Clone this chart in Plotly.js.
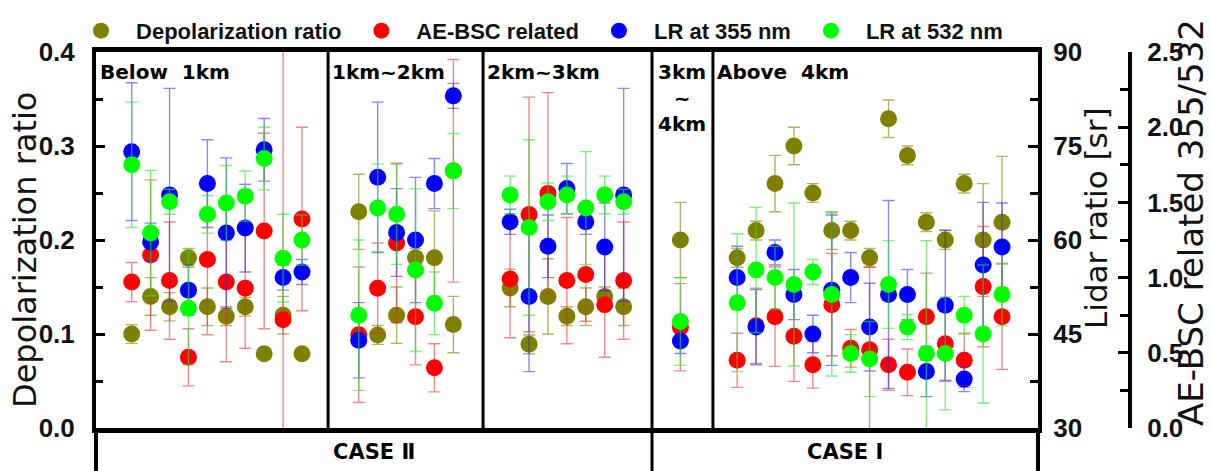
<!DOCTYPE html>
<html><head><meta charset="utf-8">
<script src="https://cdn.plot.ly/plotly-3.0.1.min.js"></script>
<style>html,body{margin:0;padding:0;background:#fff}#chart{width:1210px;height:471px}</style>
</head><body><div id="chart"></div>
<script>
// x slots (categorical positions of the samples)
const xPos = [1,2,3,4,5,6,7,8,9,10, 13,14,15,16,17,18, 21,22,23,24,25,26,27, 30, 33,34,35,36,37,38,39,40,41,42,43,44,45,46,47];
// Depolarization ratio
const depol = [0.100,0.140,0.129,0.181,0.129,0.119,0.129,0.079,0.120,0.079,
  0.230,0.099,0.120,0.181,0.181,0.110,
  0.149,0.089,0.140,0.119,0.129,0.140,0.129,
  0.200,
  0.181,0.210,0.260,0.300,0.250,0.210,0.210,0.181,0.329,0.290,0.219,0.200,0.260,0.200,0.219];
const depolErr = [0.01,0.02,0.015,0.01,0.02,0.01,0.01,0.006,0.02,0.006,
  0.04,0.01,0.03,0.01,0.05,0.03,
  0.02,0.01,0.04,0.01,0.02,0.01,0.02,
  0.04,
  0.01,0.01,0.03,0.02,0.01,0.02,0.01,0.01,0.02,0.01,0.01,0.01,0.01,0.06,0.07];
// AE-BSC related 355/532
const aeBsc = [0.97,1.15,0.98,0.47,1.12,0.97,0.93,1.31,0.72,1.39,
  0.62,0.93,1.23,0.74,0.40,1.71,
  0.99,1.42,1.56,0.98,1.02,0.82,0.98,
  0.67,
  0.45,0.68,0.74,0.61,0.42,0.82,0.53,0.52,0.42,0.37,0.74,0.56,0.45,0.94,0.74];
const aeBscErr = [0.13,0.5,0.39,0.19,0.5,0.53,0.4,0.65,1.8,0.61,
  0.45,0.3,0.53,0.32,0.16,0.74,
  0.39,0.78,0.67,0.42,0.31,0.35,0.39,
  0.29,
  0.18,0.25,0.33,0.3,0.155,0.34,0.125,0.55,0.17,0.155,0.29,0.25,0.18,0.4,0.35];
// Lidar ratio at 355 nm [sr]
const lr355 = [74.1,59.7,67.2,52.0,69.0,61.1,61.9,74.4,54.0,54.9,
  44.0,70.0,61.2,60.0,69.0,83.0,
  62.9,51.0,59.0,68.2,62.9,58.9,67.2,
  43.9,
  54.0,46.1,58.0,51.3,45.0,52.0,54.0,46.1,51.3,51.3,39.0,49.6,37.8,56.0,58.9];
const lr355Err = [11,3,17,4,7,12,7,5,2,2,
  6,12,7,10,4,2,
  2,12,5,4,2,7,17,
  2,
  5,6,2,4,3,12,4,7,15,4,4,12,2,10,7];
// Lidar ratio at 532 nm [sr]
const lr532 = [72.0,61.1,66.1,49.1,64.1,65.9,67.0,73.0,57.1,60.0,
  48.0,65.1,64.1,55.2,49.9,71.0,
  67.2,62.0,66.1,67.2,65.1,67.2,66.1,
  47.0,
  50.0,55.2,54.0,52.9,54.9,51.3,41.9,41.0,52.9,46.1,41.9,41.9,48.0,45.0,51.3];
const lr532Err = [10,10,2,9,3,6,4,5,7,4,
  12,7,8,13,5,6,
  3,14,3,3,9,3,2,
  7,
  11,10,5,13,2,13,3,6,7,2,18,9,3,11,5];

const groupEdges = [-0.887, 11.38, 19.57, 28.5, 31.72, 48.9];
const groupLabels = ['Below\u00a0 1km', '1km~2km', '2km~3km', '3km<br>~<br>4km', 'Above\u00a0 4km'];
const caseLabels = ['CASE \u2161', 'CASE \u2160'];
const caseEdges = [-0.887, 28.5, 48.9];

const seriesNames = ['Depolarization ratio', 'AE-BSC related', 'LR at 355 nm', 'LR at 532 nm'];
const seriesColors = ['#808000', '#ff0000', '#0000ff', '#00ff00'];
const errColors = ['rgba(128,128,0,0.6)', 'rgba(230,40,40,0.55)', 'rgba(40,40,230,0.55)', 'rgba(40,230,40,0.6)'];

const AR = 'Liberation Sans, Arial, sans-serif';
const DV = 'DejaVu Sans, Verdana, sans-serif';

function mk(i, y, err, yaxis) {
  return {
    type: 'scatter', mode: 'markers', name: seriesNames[i], x: xPos, y: y, yaxis: yaxis,
    marker: {color: seriesColors[i], size: 17, line: {width: 0}},
    error_y: {type: 'data', array: err, visible: true, color: errColors[i], thickness: 1.4, width: 6},
    cliponaxis: true
  };
}
const data = [
  mk(0, depol, depolErr, 'y'),
  mk(1, aeBsc, aeBscErr, 'y2'),
  mk(2, lr355, lr355Err, 'y3'),
  mk(3, lr532, lr532Err, 'y3')
];

const tickFont = {family: AR, size: 26, weight: 'bold', color: '#111'};
const xDomEnd = 942 / 1034;

const shapes = [];
for (let i = 1; i < groupEdges.length - 1; i++) {
  const e = groupEdges[i];
  const extend = caseEdges.indexOf(e) >= 0;
  shapes.push({type: 'line', xref: 'x', yref: 'paper', x0: e, x1: e, y0: extend ? -0.13 : 0, y1: 1,
    line: {color: 'black', width: 3}});
}
shapes.push({type: 'line', xref: 'paper', yref: 'paper', x0: 0, x1: 0, y0: -0.13, y1: 0, line: {color: 'black', width: 4}});
shapes.push({type: 'line', xref: 'paper', yref: 'paper', x0: xDomEnd, x1: xDomEnd, y0: -0.13, y1: 0, line: {color: 'black', width: 4}});

const annotations = [];
for (let i = 0; i < groupLabels.length; i++) {
  const centered = groupLabels[i].indexOf('<br>') >= 0;
  annotations.push({
    xref: 'x', yref: 'paper',
    x: centered ? (groupEdges[i] + groupEdges[i + 1]) / 2 : groupEdges[i],
    xanchor: centered ? 'center' : 'left', xshift: centered ? 0 : 2,
    y: 0.985, yanchor: 'top', showarrow: false, align: 'center',
    text: groupLabels[i], font: {family: DV, size: 20, weight: 'bold', color: '#000'}
  });
}
for (let i = 0; i < caseLabels.length; i++) {
  annotations.push({
    xref: 'x', yref: 'paper', x: (caseEdges[i] + caseEdges[i + 1]) / 2, y: -0.064,
    xanchor: 'center', yanchor: 'middle', showarrow: false,
    text: caseLabels[i], font: {family: DV, size: 21, weight: 'bold', color: '#000'}
  });
}
// axis titles
annotations.push({xref: 'paper', yref: 'paper', x: (25 - 96) / 1034, y: (428 - 250) / 376,
  xanchor: 'center', yanchor: 'middle', textangle: -90, showarrow: false,
  text: 'Depolarization ratio', font: {family: DV, size: 32, color: '#111'}});
annotations.push({xref: 'paper', yref: 'paper', x: (1096 - 96) / 1034, y: (428 - 218) / 376,
  xanchor: 'center', yanchor: 'middle', textangle: -90, showarrow: false,
  text: 'Lidar ratio [sr]', font: {family: DV, size: 31, color: '#111'}});
annotations.push({xref: 'paper', yref: 'paper', x: (1191 - 96) / 1034, y: (428 - 223) / 376,
  xanchor: 'center', yanchor: 'middle', textangle: -90, showarrow: false,
  text: 'AE-BSC related 355/532', font: {family: DV, size: 34, color: '#111'}});

const layout = {
  width: 1210, height: 471,
  margin: {l: 96, r: 80, t: 52, b: 43, autoexpand: false},
  paper_bgcolor: 'white', plot_bgcolor: 'white',
  showlegend: true,
  legend: {orientation: 'h', x: -0.029, xanchor: 'left', y: 1.112, yanchor: 'top',
    font: {family: AR, size: 22, weight: 'bold', color: '#111'}, itemgap: 2, itemwidth: 60,
    bgcolor: 'rgba(0,0,0,0)', itemclick: false},
  xaxis: {domain: [0, xDomEnd], range: [groupEdges[0], groupEdges[groupEdges.length - 1]],
    showline: true, linewidth: 5, linecolor: 'black', mirror: true,
    showticklabels: false, ticks: '', showgrid: false, zeroline: false},
  yaxis: {range: [0, 0.4], dtick: 0.1, tickformat: '.1f', ticks: 'inside', ticklen: 9, tickwidth: 3, tickcolor: 'black',
    minor: {dtick: 0.05, ticks: 'inside', ticklen: 7, tickwidth: 3, tickcolor: 'black', showgrid: false},
    showline: true, linewidth: 4, linecolor: 'black', tickfont: tickFont, ticklabelstandoff: 12,
    showgrid: false, zeroline: false},
  yaxis2: {overlaying: 'y', anchor: 'free', position: 1, side: 'right', range: [0, 2.5], dtick: 0.5, tickformat: '.1f',
    ticks: 'inside', ticklen: 10, tickwidth: 3, tickcolor: 'black',
    minor: {dtick: 0.25, ticks: 'inside', ticklen: 8, tickwidth: 3, tickcolor: 'black', showgrid: false},
    showline: true, linewidth: 4, linecolor: 'black', tickfont: tickFont, ticklabelstandoff: 10,
    showgrid: false, zeroline: false},
  yaxis3: {overlaying: 'y', anchor: 'x', side: 'right', range: [30, 90], dtick: 15,
    ticks: 'inside', ticklen: 10, tickwidth: 3, tickcolor: 'black',
    minor: {dtick: 7.5, ticks: 'inside', ticklen: 8, tickwidth: 3, tickcolor: 'black', showgrid: false},
    showline: true, linewidth: 4, linecolor: 'black', tickfont: tickFont, ticklabelstandoff: 6,
    showgrid: false, zeroline: false},
  shapes: shapes,
  annotations: annotations
};

Plotly.newPlot('chart', data, layout, {displayModeBar: false, staticPlot: true});
</script>
</body></html>
